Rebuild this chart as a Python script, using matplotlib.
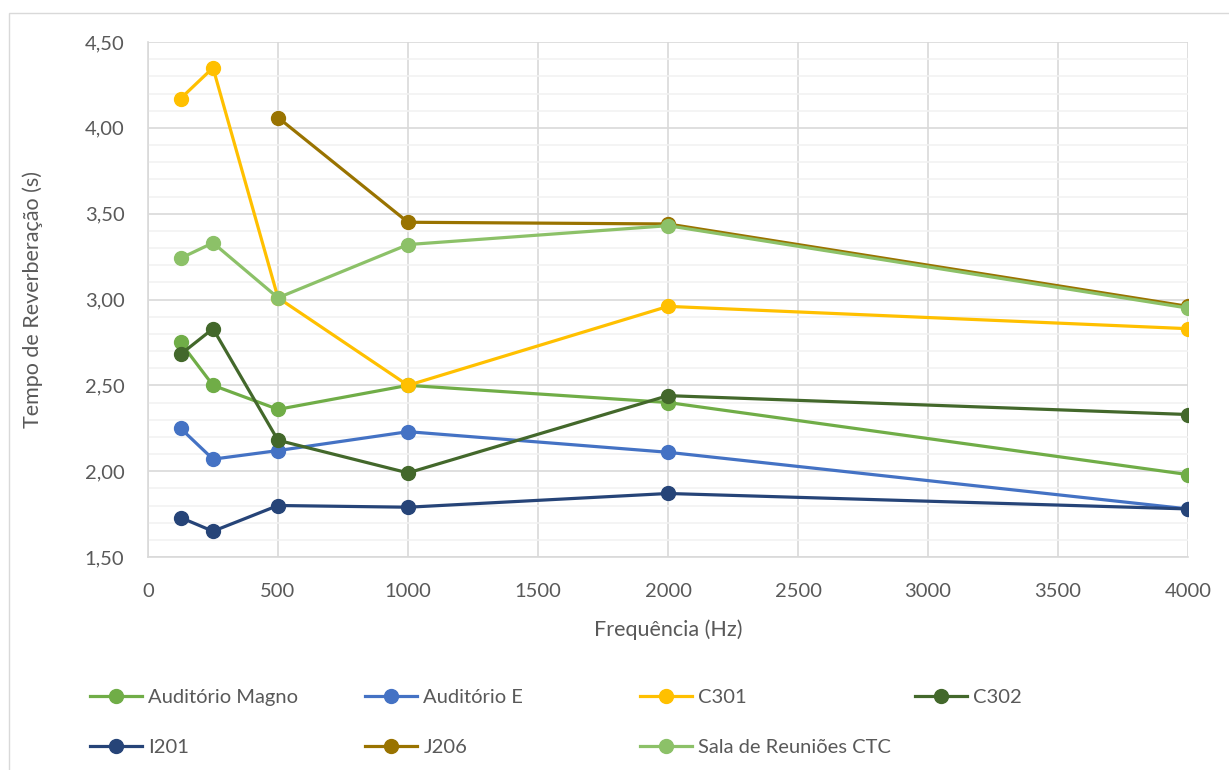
import matplotlib
matplotlib.use("Agg")
import matplotlib.pyplot as plt
from matplotlib.ticker import MultipleLocator, FuncFormatter
from matplotlib.patches import Rectangle

plt.rcParams["font.family"] = ["Lato", "DejaVu Sans"]

freqs = [125, 250, 500, 1000, 2000, 4000]

auditorio_magno = [2.75, 2.50, 2.36, 2.50, 2.40, 1.98]
auditorio_e     = [2.25, 2.07, 2.12, 2.23, 2.11, 1.78]
c301            = [4.17, 4.35, 3.01, 2.50, 2.96, 2.83]
c302            = [2.68, 2.83, 2.18, 1.99, 2.44, 2.33]
i201            = [1.73, 1.65, 1.80, 1.79, 1.87, 1.78]
j206_freqs      = [500, 1000, 2000, 4000]
j206            = [4.06, 3.45, 3.44, 2.96]
sala_ctc        = [3.24, 3.33, 3.01, 3.32, 3.43, 2.95]

series = [
    ("Auditório Magno", freqs, auditorio_magno, "#70AD47"),
    ("Auditório E", freqs, auditorio_e, "#4472C4"),
    ("C301", freqs, c301, "#FFC000"),
    ("C302", freqs, c302, "#43682B"),
    ("I201", freqs, i201, "#264478"),
    ("J206", j206_freqs, j206, "#997300"),
    ("Sala de Reuniões CTC", freqs, sala_ctc, "#8CC168"),
]

TXT = "#595959"

fig = plt.figure(figsize=(12.29, 7.7), dpi=100)
fig.patches.append(Rectangle((9 / 1229, -0.01), 1.2, 1 - 13 / 770 + 0.01,
                             transform=fig.transFigure, fill=False,
                             edgecolor="#D9D9D9", lw=1))

ax = fig.add_axes([148 / 1229, 1 - 557 / 770, 1040 / 1229, 515 / 770])

handles = []
for name, xs, ys, col in series:
    h, = ax.plot(xs, ys, color=col, lw=2.3, marker="o", ms=10, label=name,
                 solid_joinstyle="round", zorder=3)
    handles.append(h)

ax.set_xlim(0, 4000)
ax.set_ylim(1.5, 4.5)
ax.xaxis.set_major_locator(MultipleLocator(500))
ax.yaxis.set_major_locator(MultipleLocator(0.5))
ax.yaxis.set_minor_locator(MultipleLocator(0.1))
ax.yaxis.set_major_formatter(FuncFormatter(lambda v, p: f"{v:.2f}".replace(".", ",")))

ax.grid(which="major", color="#D9D9D9", lw=1.2, zorder=0)
ax.grid(which="minor", axis="y", color="#F2F2F2", lw=1.2, zorder=0)
ax.set_axisbelow(True)

for side in ["top", "right"]:
    ax.spines[side].set_visible(False)
for side in ["left", "bottom"]:
    ax.spines[side].set_color("#D9D9D9")
    ax.spines[side].set_linewidth(1.2)

ax.tick_params(which="both", length=0, colors=TXT, labelsize=14.5)
ax.tick_params(axis="x", pad=19)
ax.tick_params(axis="y", pad=17)

ax.set_xlabel("Frequência (Hz)", color=TXT, fontsize=15.5, labelpad=14)
ax.set_ylabel("Tempo de Reverberação (s)", color=TXT, fontsize=15.5, labelpad=30)

# legend: 4 equal-width columns, filled row by row like Excel
for c in range(4):
    idx = [i for i in (c, c + 4) if i < len(series)]
    leg = fig.legend([handles[i] for i in idx], [series[i][0] for i in idx],
                     loc="upper left",
                     bbox_to_anchor=((90 + 275 * c) / 1229, 1 - 689 / 770),
                     frameon=False, fontsize=14.5, handlelength=2.6,
                     handletextpad=0.3, labelspacing=1.65,
                     borderaxespad=0, borderpad=0)
    for t in leg.get_texts():
        t.set_color(TXT)
    for h in leg.legend_handles:
        h.set_markersize(10)

fig.savefig("out.png", dpi=100, facecolor="white")
